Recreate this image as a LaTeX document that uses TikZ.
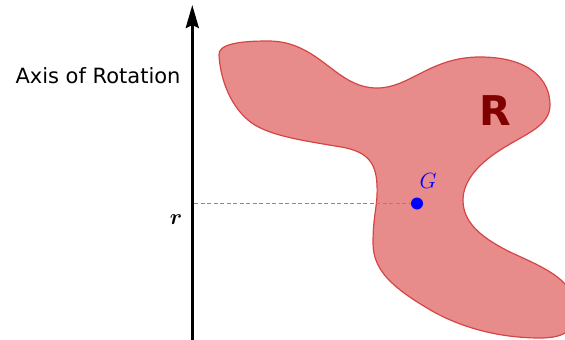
\RequirePackage{fix-cm}
\documentclass[tikz,border=0pt]{standalone}
\usepackage{amsmath,bm}
\usepackage{fontspec}
\newfontfamily\dejavu{DejaVu Sans}
\usetikzlibrary{arrows.meta}
\definecolor{blobfill}{HTML}{E78B8B}
\definecolor{blobdraw}{HTML}{D64545}
\definecolor{darkR}{HTML}{800000}
\definecolor{dashgray}{HTML}{8A8A8A}
\tikzset{
  blob/.style={fill=blobfill, draw=blobdraw, line width=1.2pt},
  axisline/.style={line width=3pt, -{Stealth[length=23pt,width=13pt,inset=3pt]}},
  guide/.style={draw=dashgray, line width=0.9pt, dash pattern=on 4pt off 2.5pt},
  gdot/.style={circle, fill=blue, inner sep=0pt, minimum size=12pt},
  lbl/.style={inner sep=0pt, anchor=base}
}
\begin{document}
\begin{tikzpicture}[x=1pt,y=-1pt]
\useasboundingbox (0,0) rectangle (565,340);
\clip (0,0) rectangle (565,340);
\draw[blob] (219,55) .. controls (218,44) and (240,41) .. (268,41)
 .. controls (320,41) and (335,88) .. (377,88)
 .. controls (410,88) and (430,57) .. (480,57)
 .. controls (530,57) and (550,80) .. (550,105)
 .. controls (550,125) and (528,133) .. (505,147)
 .. controls (480,162) and (463,180) .. (463,200)
 .. controls (463,222) and (480,237) .. (510,252)
 .. controls (540,266) and (572,278) .. (575,305)
 .. controls (578,330) and (565,338) .. (540,338)
 .. controls (500,338) and (460,328) .. (427,308)
 .. controls (392,287) and (373,270) .. (373,243)
 .. controls (373,215) and (378,205) .. (377,185)
 .. controls (376,160) and (365,150) .. (335,146)
 .. controls (300,140) and (265,135) .. (248,120)
 .. controls (228,103) and (220,75) .. (219,55) -- cycle;
\coordinate (axbot) at (192.3,345);
\coordinate (axtop) at (192.3,5);
\draw[axisline] (axbot) -- (axtop);
\node[lbl] (axlabel) at (98,83) {\dejavu\fontsize{21}{25}\selectfont Axis of Rotation};
\node[lbl] (rlabel) at (176,224) {\fontsize{22}{26}\selectfont $\bm{r}$};
\node[gdot] (Gdot) at (417,203.5) {};
\coordinate (rpt) at (194,203.5);
\draw[guide] (rpt) -- (Gdot);
\node[lbl, text=blue] (Glabel) at (428,188) {\fontsize{22}{26}\selectfont $G$};
\node[lbl, text=darkR] (Rlabel) at (495,125) {\dejavu\bfseries\fontsize{41}{48}\selectfont R};
\end{tikzpicture}
\end{document}
